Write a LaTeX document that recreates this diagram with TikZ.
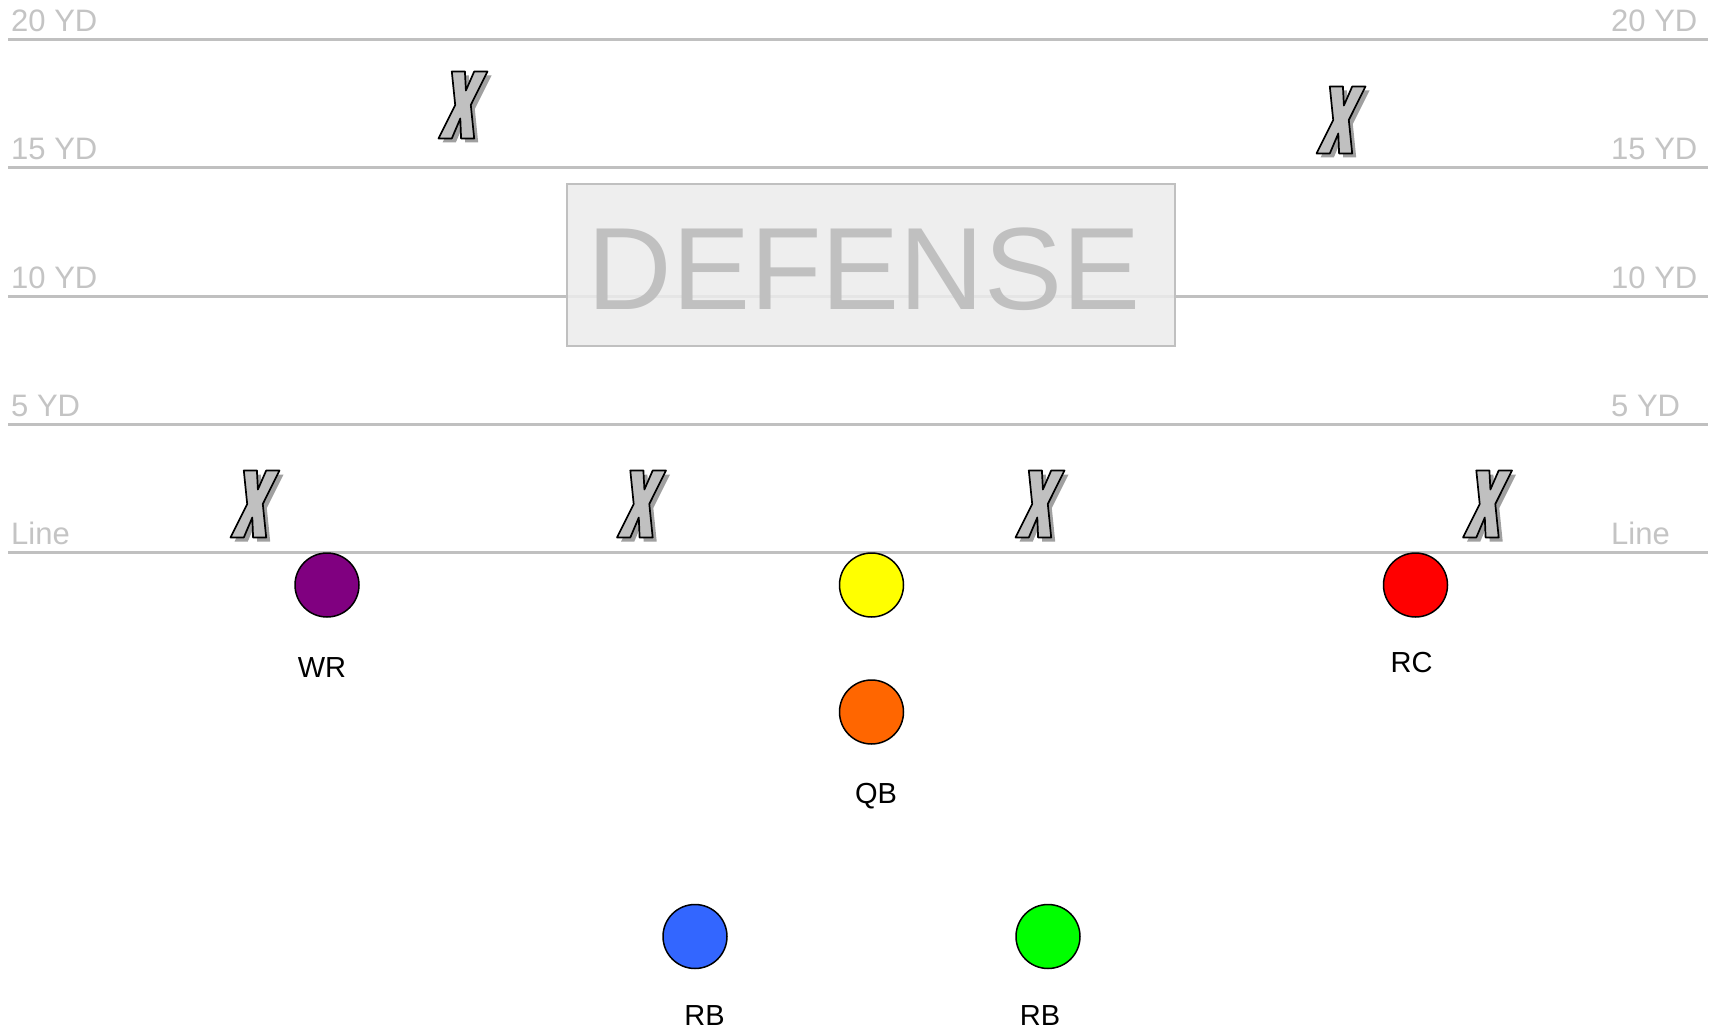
\documentclass[tikz,border=0pt]{standalone}
\usepackage{fontspec}
\setmainfont{Liberation Sans}
\definecolor{yardgray}{HTML}{C0C0C0}
\definecolor{yardtext}{HTML}{C4C4C4}
\definecolor{boxfill}{HTML}{ECECEC}
\definecolor{xface}{HTML}{C0C0C0}
\definecolor{xshadow}{HTML}{A0A0A0}
\definecolor{wrpurple}{HTML}{800080}
\definecolor{cyellow}{HTML}{FFFF00}
\definecolor{rcred}{HTML}{FF0000}
\definecolor{qborange}{HTML}{FF6600}
\definecolor{rbblue}{HTML}{3366FF}
\definecolor{rbgreen}{HTML}{00FF00}
\tikzset{
  yardline/.style={draw=yardgray, line width=3},
  yardlabel/.style={text=yardtext, anchor=base west, inner sep=0, font=\fontsize{31}{36}\selectfont},
  player/.style={circle, draw=black, line width=1.5, minimum size=64, inner sep=0},
  plabel/.style={anchor=base, inner sep=0, text=black, font=\fontsize{29}{34}\selectfont},
  defbox/.style={draw=yardgray, line width=2, fill=boxfill, fill opacity=0.85,
    minimum width=608, minimum height=162, inner sep=0},
  deftext/.style={text=yardgray, inner sep=0, anchor=base, font=\fontsize{117}{130}\selectfont},
  xmark/.pic={
    \fill[xshadow, shift={(4,4)}] (-24.5,33.5) -- (-11.2,33.5) -- (-2.7,13.5) -- (-1.9,33.5) -- (11.2,33.5) -- (7.8,0) -- (24.5,-33.5) -- (11.2,-33.5) -- (2.9,-14.5) -- (1.9,-33.5) -- (-11.2,-33.5) -- (-7.8,0) -- cycle;
    \draw[fill=xface, draw=black, line width=1.7, line join=round] (-24.5,33.5) -- (-11.2,33.5) -- (-2.7,13.5) -- (-1.9,33.5) -- (11.2,33.5) -- (7.8,0) -- (24.5,-33.5) -- (11.2,-33.5) -- (2.9,-14.5) -- (1.9,-33.5) -- (-11.2,-33.5) -- (-7.8,0) -- cycle;
  }
}
\begin{document}
\begin{tikzpicture}[x=1pt, y=-1pt]
\useasboundingbox (0,0) rectangle (1717,1030);
\fill[white] (0,0) rectangle (1717,1030);
% yard lines and labels
\foreach \yy/\tt/\nn in {40/20 YD/a, 168/15 YD/b, 296/10 YD/c, 424/5 YD/d, 552/Line/e} {
  \coordinate (lineL\nn) at (8,\yy);
  \coordinate (lineR\nn) at (1708,\yy);
  \draw[yardline] (lineL\nn) -- (lineR\nn);
  \node[yardlabel] (labL\nn) at (11,\yy-8) {\tt};
  \node[yardlabel] (labR\nn) at (1611,\yy-8) {\tt};
}
% defense box
\node[defbox] (defense) at (871,265) {};
\node[deftext] (defensetext) at (864,309) {DEFENSE};
% defenders
\pic (x1) at (463,105) {xmark};
\pic (x2) at (1341,120) {xmark};
\pic (x3) at (255,504) {xmark};
\pic (x4) at (641.5,504) {xmark};
\pic (x5) at (1040,504) {xmark};
\pic (x6) at (1487.5,504) {xmark};
% offense
\node[player, fill=wrpurple] (wr) at (327,585) {};
\node[player, fill=cyellow] (c) at (871.5,585) {};
\node[player, fill=rcred] (rc) at (1415.5,585) {};
\node[player, fill=qborange] (qb) at (871.5,712) {};
\node[player, fill=rbblue] (rb1) at (695,936.5) {};
\node[player, fill=rbgreen] (rb2) at (1048,936.5) {};
\node[plabel] (wrlab) at (322,677) {WR};
\node[plabel] (rclab) at (1411.5,672) {RC};
\node[plabel] (qblab) at (876,803) {QB};
\node[plabel] (rb1lab) at (704.5,1025) {RB};
\node[plabel] (rb2lab) at (1040,1025) {RB};
\end{tikzpicture}
\end{document}
